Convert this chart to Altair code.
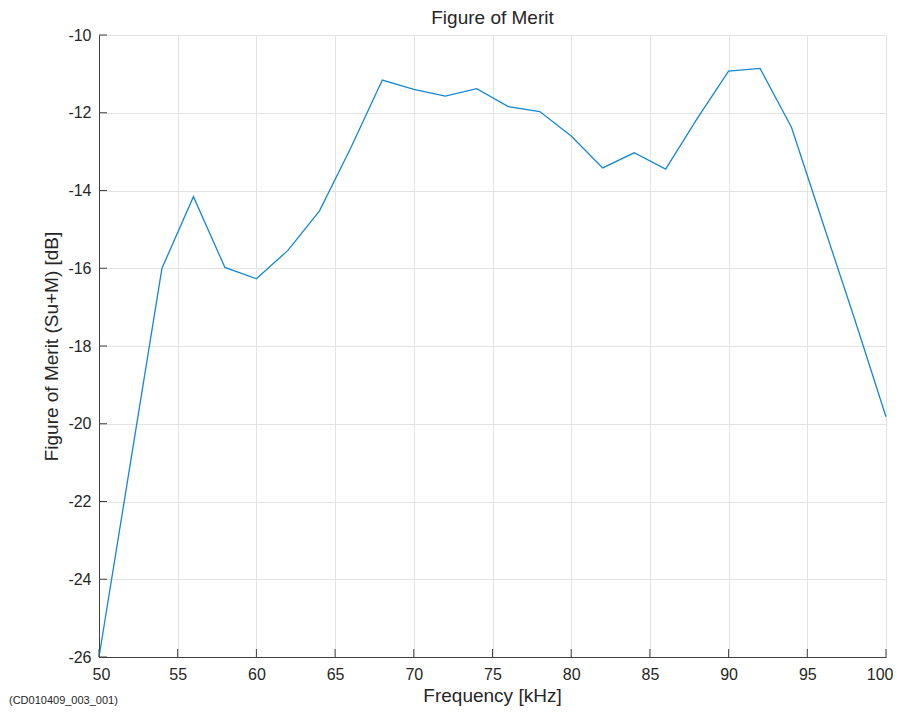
import altair as alt
import pandas as pd

freq_khz = [50, 52, 54, 56, 58, 60, 62, 64, 66, 68, 70, 72, 74, 76, 78, 80, 82, 84, 86, 88, 90, 92, 94, 96, 98, 100]
fom_db = [-26.0, -21.0, -16.0, -14.16, -15.98, -16.27, -15.54, -14.53, -12.9, -11.16, -11.4, -11.57, -11.38, -11.84,
          -11.97, -12.6, -13.42, -13.03, -13.45, -12.15, -10.93, -10.86, -12.38, -14.85, -17.3, -19.82]
x_ticks = [50, 55, 60, 65, 70, 75, 80, 85, 90, 95, 100]
y_ticks = [-26, -24, -22, -20, -18, -16, -14, -12, -10]
title_text = ["Figure of Merit"]
xtitle_text = ["Frequency [kHz]"]
note_text = ["(CD010409_003_001)"]

W, H = 787, 622
FONT = "Liberation Sans"
TXT = "#262626"
GRID = "#e3e3e3"
AX = "#404040"

df = pd.DataFrame({"f": freq_khz, "m": fom_db})
xs = alt.Scale(domain=[50, 100], nice=False, zero=False)
ys = alt.Scale(domain=[-26, -10], nice=False, zero=False)

common = dict(grid=True, gridColor=GRID, domainColor=AX, ticks=False, labelFontSize=16,
              labelColor=TXT, labelFont=FONT, titleFont=FONT, titleFontSize=19,
              titleFontWeight="normal", titleColor=TXT,
              labelExpr="'' + datum.value")
xaxis = alt.Axis(values=x_ticks, title=None, labelPadding=9,
                 labelFlush=True, labelFlushOffset=7, **common)
yaxis = alt.Axis(values=y_ticks, title="Figure of Merit (Su+M) [dB]", labelPadding=8, titlePadding=6,
                 labelFlush=False, **common)

line = alt.Chart(df).mark_line(color="#1488d0", strokeWidth=1.3).encode(
    x=alt.X("f:Q", scale=xs, axis=xaxis),
    y=alt.Y("m:Q", scale=ys, axis=yaxis),
)

xt = alt.Chart(pd.DataFrame({"t": x_ticks})).mark_rule(color=AX, strokeWidth=1).encode(
    x=alt.X("t:Q", scale=xs), y=alt.value(H), y2=alt.value(H - 8))
yt = alt.Chart(pd.DataFrame({"t": y_ticks})).mark_rule(color=AX, strokeWidth=1).encode(
    y=alt.Y("t:Q", scale=ys), x=alt.value(0), x2=alt.value(8))

title = alt.Chart(pd.DataFrame({"s": title_text})).mark_text(
    align="center", baseline="middle", font=FONT, fontSize=19, color=TXT).encode(
    text="s:N", x=alt.value(W / 2), y=alt.value(-17))

xtitle = alt.Chart(pd.DataFrame({"s": xtitle_text})).mark_text(
    align="center", baseline="alphabetic", font=FONT, fontSize=19, color=TXT).encode(
    text="s:N", x=alt.value(W / 2), y=alt.value(667))

note = alt.Chart(pd.DataFrame({"s": note_text})).mark_text(
    align="left", baseline="middle", font=FONT, fontSize=11, color=TXT).encode(
    text="s:N", x=alt.value(-90), y=alt.value(666))

chart = alt.layer(line, xt, yt, title, xtitle, note).properties(
    width=W, height=H,
    autosize=alt.AutoSizeParams(type="none"),
    padding={"left": 91, "top": 27, "right": 7, "bottom": 50},
).configure_view(stroke=GRID).configure(background="white")

chart.save("out.html", embed_options={"renderer": "svg", "actions": False})
